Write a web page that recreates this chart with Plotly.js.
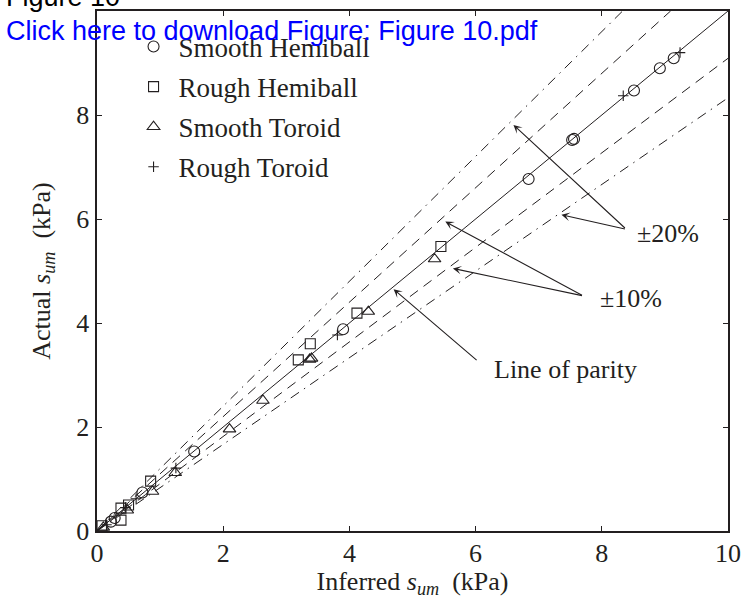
<!DOCTYPE html>
<html>
<head>
<meta charset="utf-8">
<script src="https://cdn.plot.ly/plotly-3.0.1.min.js"></script>
<style>html,body{margin:0;padding:0;background:#fff;}#chart{width:743px;height:599px;}</style>
</head>
<body>
<div id="chart"></div>
<script>
// ---- data ----
var smoothHemiX = [0.22, 0.28, 0.72, 1.54, 3.90, 6.84, 7.53, 7.56, 8.51, 8.92, 9.14];
var smoothHemiY = [0.18, 0.25, 0.74, 1.53, 3.88, 6.77, 7.52, 7.54, 8.47, 8.90, 9.09];

var roughHemiX = [0.08, 0.38, 0.38, 0.50, 0.85, 3.19, 3.38, 4.12, 5.45];
var roughHemiY = [0.10, 0.21, 0.44, 0.50, 0.96, 3.29, 3.60, 4.19, 5.47];

var smoothTorX = [0.10, 0.48, 0.88, 1.24, 2.10, 2.63, 3.37, 3.40, 4.30, 5.35];
var smoothTorY = [0.07, 0.40, 0.76, 1.12, 1.96, 2.51, 3.30, 3.32, 4.22, 5.23];

var roughTorX = [0.15, 0.45, 0.62, 1.25, 3.81, 8.34, 9.24];
var roughTorY = [0.12, 0.45, 0.62, 1.21, 3.77, 8.37, 9.20];

var parityX = [0, 10];      var parityY = [0, 10];
var plus10X = [0, 9.09];    var plus10Y = [0, 10];
var minus10X = [0, 10];     var minus10Y = [0, 9.09];
var plus20X = [0, 8.33];    var plus20Y = [0, 10];
var minus20X = [0, 10];     var minus20Y = [0, 8.33];

var tickVals = [0, 2, 4, 6, 8, 10];
var tickText = ['0', '2', '4', '6', '8', '10'];
var seriesNames = ['Smooth Hemiball', 'Rough Hemiball', 'Smooth Toroid', 'Rough Toroid'];

// ---- styles ----
var INK = '#231f20';
var SERIF = 'Liberation Serif, Times New Roman, serif';
var SANS = 'Liberation Sans, Arial, sans-serif';

function lineTrace(x, y, dash) {
  return {x: x, y: y, mode: 'lines', type: 'scatter', showlegend: false, hoverinfo: 'skip',
          line: {color: INK, width: 1, dash: dash}};
}
function markTrace(x, y, name, symbol, size, grp) {
  return {x: x, y: y, mode: 'markers', type: 'scatter', name: name, legendgroup: grp,
          marker: {symbol: symbol, size: size, color: INK, line: {color: INK, width: 1.1}}};
}

var traces = [
  lineTrace(parityX, parityY, 'solid'),
  lineTrace(plus10X, plus10Y, '10px,7px'),
  lineTrace(minus10X, minus10Y, '10px,7px'),
  lineTrace(plus20X, plus20Y, '10px,6px,1.5px,6px'),
  lineTrace(minus20X, minus20Y, '10px,6px,1.5px,6px'),
  markTrace(smoothHemiX, smoothHemiY, seriesNames[0], 'circle-open', 11, 'a'),
  markTrace(roughHemiX, roughHemiY, seriesNames[1], 'square-open', 10, 'b'),
  markTrace(smoothTorX, smoothTorY, seriesNames[2], 'triangle-up-open', 11, 'c'),
  markTrace(roughTorX, roughTorY, seriesNames[3], 'cross-thin-open', 7.5, 'd')
];

function arrow(x, y, ax, ay) {
  return {x: x, y: y, ax: ax, ay: ay, xref: 'x', yref: 'y', axref: 'x', ayref: 'y',
          text: '', showarrow: true, arrowhead: 3, arrowsize: 1.3, arrowwidth: 1.1,
          arrowcolor: INK, standoff: 0, startstandoff: 0};
}
function label(x, y, text) {
  return {x: x, y: y, xref: 'x', yref: 'y', text: text, showarrow: false,
          xanchor: 'left', yanchor: 'middle', font: {family: SERIF, size: 26, color: INK}};
}

var axisCommon = {
  range: [0, 10], tickmode: 'array', tickvals: tickVals, ticktext: tickText,
  ticks: 'inside', ticklen: 5, tickwidth: 1, tickcolor: INK,
  showline: true, linewidth: 1.6, linecolor: INK, mirror: 'ticks',
  showgrid: false, zeroline: false,
  tickfont: {family: SERIF, size: 26, color: INK}
};

var layout = {
  width: 743, height: 599,
  margin: {l: 97, r: 15, t: 11, b: 68, pad: 0},
  paper_bgcolor: '#ffffff', plot_bgcolor: '#ffffff',
  font: {family: SERIF, color: INK},
  xaxis: Object.assign({}, axisCommon, {
    ticklabelstandoff: -2,
    title: {text: 'Inferred <i>s</i><sub><i>um</i></sub>  (kPa)', font: {family: SERIF, size: 26, color: INK}, standoff: 10}
  }),
  yaxis: Object.assign({}, axisCommon, {
    ticklabelstandoff: 1,
    title: {text: 'Actual <i>s</i><sub><i>um</i></sub>  (kPa)', font: {family: SERIF, size: 26, color: INK}, standoff: 18}
  }),
  showlegend: true,
  legend: {x: 0.05, y: 0.978, xanchor: 'left', yanchor: 'top', bgcolor: 'rgba(0,0,0,0)',
           borderwidth: 0, font: {family: SERIF, size: 27, color: INK},
           traceorder: 'grouped', tracegroupgap: 2, itemwidth: 40},
  annotations: [
    arrow(4.70, 4.65, 6.04, 3.26),
    arrow(5.52, 5.95, 7.71, 4.52),
    arrow(5.64, 5.05, 7.71, 4.52),
    arrow(7.36, 6.08, 8.39, 5.80),
    arrow(6.60, 7.81, 8.39, 5.80),
    label(6.26, 3.10, 'Line of parity'),
    label(7.94, 4.48, '±10%'),
    label(8.53, 5.73, '±20%'),
    {xref: 'paper', yref: 'paper', x: -0.148, y: 1.027, xanchor: 'left', yanchor: 'middle',
     text: 'Figure 10', showarrow: false, font: {family: SANS, size: 27, color: '#000000'}},
    {xref: 'paper', yref: 'paper', x: -0.148, y: 0.961, xanchor: 'left', yanchor: 'middle',
     text: 'Click here to download Figure: Figure 10.pdf', showarrow: false,
     font: {family: SANS, size: 27, color: '#0000ff'}}
  ]
};

Plotly.newPlot('chart', traces, layout, {displayModeBar: false, staticPlot: true});
</script>
</body>
</html>
